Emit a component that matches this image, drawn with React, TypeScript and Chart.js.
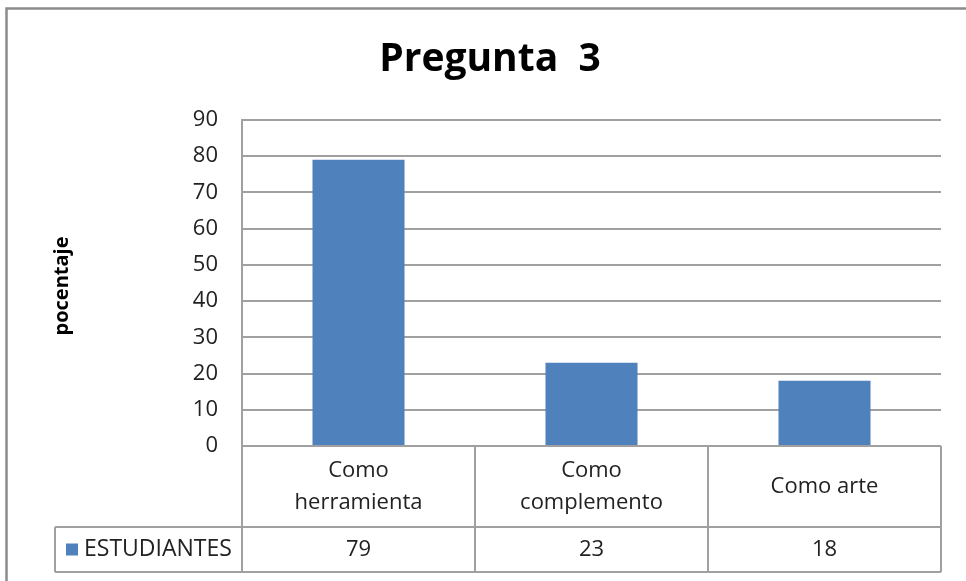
import React, { useEffect, useRef } from "react";
import { Chart, registerables } from "chart.js";

Chart.register(...registerables);

const TITLE = "Pregunta  3";
const Y_TITLE = "pocentaje";
const SERIES_NAME = "ESTUDIANTES";
const CATEGORIES: string[][] = [["Como", "herramienta"], ["Como", "complemento"], ["Como arte"]];
const VALUES = [79, 23, 18];
const Y_MAX = 90;
const Y_STEP = 10;

const FONT = "'Open Sans', 'Liberation Sans', sans-serif";
const BAR_COLOR = "#4F81BD";
const LINE_COLOR = "#a0a0a0";
const TEXT_COLOR = "#222222";

const tablePlugin = {
  id: "tablePlugin",
  afterDraw(chart: any) {
    const ctx = chart.ctx as CanvasRenderingContext2D;
    const { left, right, top, bottom } = chart.chartArea;
    const xs = chart.scales.x;
    const n = CATEGORIES.length;
    const cw = (right - left) / n;
    const headerBottom = bottom + 81;
    const rowBottom = bottom + 126;
    const legendLeft = 55;
    ctx.save();
    // frame
    ctx.strokeStyle = "#8c8c8c";
    ctx.lineWidth = 2.5;
    ctx.strokeRect(6.5, 8.5, 1000, 700);
    // title
    ctx.fillStyle = "#000";
    ctx.font = `bold 39px ${FONT}`;
    ctx.textAlign = "center";
    ctx.textBaseline = "middle";
    ctx.fillText(TITLE, 490, 60);
    // y title
    ctx.save();
    ctx.translate(62, (top + bottom) / 2 + 3);
    ctx.rotate(-Math.PI / 2);
    ctx.font = `bold 20px ${FONT}`;
    ctx.fillText(Y_TITLE, 0, 0);
    ctx.restore();
    // table lines
    ctx.strokeStyle = LINE_COLOR;
    ctx.lineWidth = 2;
    ctx.beginPath();
    for (let i = 0; i <= n; i++) {
      const x = Math.round(left + i * cw);
      ctx.moveTo(x, bottom);
      ctx.lineTo(x, rowBottom);
    }
    ctx.moveTo(legendLeft, headerBottom);
    ctx.lineTo(legendLeft, rowBottom);
    ctx.moveTo(legendLeft, headerBottom);
    ctx.lineTo(right, headerBottom);
    ctx.moveTo(legendLeft, rowBottom);
    ctx.lineTo(right, rowBottom);
    ctx.moveTo(left, bottom);
    ctx.lineTo(right, bottom);
    ctx.stroke();
    // category labels
    ctx.fillStyle = TEXT_COLOR;
    ctx.font = `22px ${FONT}`;
    ctx.textAlign = "center";
    ctx.textBaseline = "middle";
    const headerMid = (bottom + headerBottom) / 2;
    CATEGORIES.forEach((lines, i) => {
      const cx = xs.getPixelForValue(i);
      const lh = 32;
      lines.forEach((t, j) => {
        const y = headerMid + (j - (lines.length - 1) / 2) * lh;
        ctx.fillText(t, cx, y);
      });
    });
    // values row
    const rowMid = (headerBottom + rowBottom) / 2;
    VALUES.forEach((v, i) => {
      ctx.fillText(String(v), xs.getPixelForValue(i), rowMid);
    });
    // legend
    ctx.fillStyle = BAR_COLOR;
    ctx.fillRect(66, rowMid - 6, 12, 12);
    ctx.fillStyle = TEXT_COLOR;
    ctx.textAlign = "left";
    ctx.font = `23px ${FONT}`;
    ctx.fillText(SERIES_NAME, 84, rowMid);
    ctx.restore();
  },
};

export default function App() {
  const ref = useRef<HTMLCanvasElement>(null);
  useEffect(() => {
    document.body.style.margin = "0";
    document.body.style.background = "#fff";
    const chart = new Chart(ref.current!, {
      type: "bar",
      data: {
        labels: CATEGORIES.map((c) => c.join(" ")),
        datasets: [
          {
            label: SERIES_NAME,
            data: VALUES,
            backgroundColor: BAR_COLOR,
            barPercentage: 0.395,
            categoryPercentage: 1,
          },
        ],
      },
      options: {
        animation: false,
        responsive: false,
        layout: { padding: { top: 120, bottom: 135, left: 0, right: 25 } },
        plugins: { legend: { display: false }, title: { display: false }, tooltip: { enabled: false } },
        scales: {
          x: { display: false },
          y: {
            min: 0,
            max: Y_MAX,
            afterFit: (s: any) => {
              s.width = 242;
            },
            ticks: { stepSize: Y_STEP, padding: 24, color: TEXT_COLOR, font: { family: FONT, size: 22 } },
            grid: { color: LINE_COLOR, lineWidth: 2, drawTicks: false },
            border: { color: LINE_COLOR, width: 2 },
          },
        },
      },
      plugins: [tablePlugin],
    });
    return () => chart.destroy();
  }, []);
  return <canvas ref={ref} width={966} height={581} style={{ display: "block" }} />;
}
